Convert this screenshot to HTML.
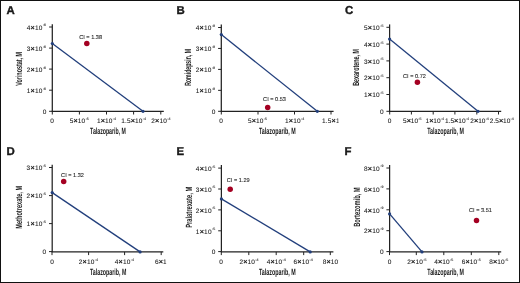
<!DOCTYPE html>
<html><head><meta charset="utf-8"><style>
html,body{margin:0;padding:0;background:#fff;}
svg{display:block;will-change:transform;}
text{font-family:"Liberation Sans",sans-serif;fill:#1a1a1a;text-rendering:geometricPrecision;}
.lab{font-weight:bold;}
.t{stroke:#1a1a1a;stroke-width:0.08px;}
.k{letter-spacing:0.3px;}
</style></head><body>
<svg width="520" height="283" viewBox="0 0 520 283">
<rect x="0" y="0" width="520" height="283" fill="#fff"/>
<text x="6.6" y="14.3" font-size="11.4" font-weight="bold" fill="#111" stroke="#111" stroke-width="0.35">A</text>
<path d="M52.3 24.3V111.3" fill="none" stroke="#222" stroke-width="1.25"/>
<path d="M51.699999999999996 111.3H163.8" fill="none" stroke="#222" stroke-width="1.3"/>
<path d="M49.099999999999994 111.3H52.3M49.099999999999994 90.2H52.3M49.099999999999994 69.1H52.3M49.099999999999994 48.1H52.3M49.099999999999994 27.0H52.3" stroke="#222" stroke-width="1"/>
<path d="M52.3 111.3V114.5M79.4 111.3V114.5M106.5 111.3V114.5M133.6 111.3V114.5M160.8 111.3V114.5" stroke="#222" stroke-width="1"/>
<text class="t" letter-spacing="0" x="46.30" y="113.50" text-anchor="end" font-size="6.5">0</text>
<text class="t" letter-spacing="0.22" x="46.10" y="92.90" text-anchor="end" font-size="6.5">1<tspan font-size="7.2" stroke-width="0.3">×</tspan>10<tspan font-size="3.6" dx="0.25" dy="-3.3" letter-spacing="0">-6</tspan></text>
<text class="t" letter-spacing="0.22" x="46.10" y="71.80" text-anchor="end" font-size="6.5">2<tspan font-size="7.2" stroke-width="0.3">×</tspan>10<tspan font-size="3.6" dx="0.25" dy="-3.3" letter-spacing="0">-6</tspan></text>
<text class="t" letter-spacing="0.22" x="46.10" y="50.80" text-anchor="end" font-size="6.5">3<tspan font-size="7.2" stroke-width="0.3">×</tspan>10<tspan font-size="3.6" dx="0.25" dy="-3.3" letter-spacing="0">-6</tspan></text>
<text class="t" letter-spacing="0.22" x="46.10" y="29.70" text-anchor="end" font-size="6.5">4<tspan font-size="7.2" stroke-width="0.3">×</tspan>10<tspan font-size="3.6" dx="0.25" dy="-3.3" letter-spacing="0">-6</tspan></text>
<text class="t" letter-spacing="0.15" x="52.10" y="122.80" text-anchor="middle" font-size="6.5">0</text>
<text class="t" letter-spacing="0.15" x="79.30" y="122.80" text-anchor="middle" font-size="6.5">5<tspan font-size="7.2" stroke-width="0.3">×</tspan>10<tspan font-size="3.6" dx="0.25" dy="-2.9" letter-spacing="0">-5</tspan></text>
<text class="t" letter-spacing="0.15" x="106.50" y="122.80" text-anchor="middle" font-size="6.5">1<tspan font-size="7.2" stroke-width="0.3">×</tspan>10<tspan font-size="3.6" dx="0.25" dy="-2.9" letter-spacing="0">-4</tspan></text>
<text class="t" letter-spacing="0.15" x="133.60" y="122.80" text-anchor="middle" font-size="6.5">1.5<tspan font-size="7.2" stroke-width="0.3">×</tspan>10<tspan font-size="3.6" dx="0.25" dy="-2.9" letter-spacing="0">-4</tspan></text>
<text class="t" letter-spacing="0.15" x="160.90" y="122.80" text-anchor="middle" font-size="6.5">2<tspan font-size="7.2" stroke-width="0.3">×</tspan>10<tspan font-size="3.6" dx="0.25" dy="-2.9" letter-spacing="0">-4</tspan></text>
<text transform="translate(21.6 85.8) rotate(-90)" x="0" y="0" font-size="9.0" textLength="33.90" lengthAdjust="spacingAndGlyphs" class="lab">Vorinostat, M</text>
<text x="90.10000000000001" y="134.3" font-size="9.0" textLength="35.80" lengthAdjust="spacingAndGlyphs" class="lab">Talazoparib, M</text>
<path d="M52.3 43.5L143.0 111.3" stroke="#223f7c" stroke-width="1.3"/>
<circle cx="52.3" cy="43.5" r="1.6" fill="#223f7c"/><circle cx="143.0" cy="111.3" r="1.6" fill="#223f7c"/>
<circle cx="86.8" cy="43.4" r="2.75" fill="#a40022"/>
<text class="t" x="79.2" y="39.4" font-size="5.6">CI = 1.38</text>
<text x="176.4" y="14.3" font-size="11.4" font-weight="bold" fill="#111" stroke="#111" stroke-width="0.35">B</text>
<path d="M221.3 24.4V111.3" fill="none" stroke="#222" stroke-width="1.25"/>
<path d="M220.70000000000002 111.3H333.6" fill="none" stroke="#222" stroke-width="1.3"/>
<path d="M218.10000000000002 111.3H221.3M218.10000000000002 90.35H221.3M218.10000000000002 69.4H221.3M218.10000000000002 48.45H221.3M218.10000000000002 27.5H221.3" stroke="#222" stroke-width="1"/>
<path d="M221.3 111.3V114.5M258.0 111.3V114.5M294.5 111.3V114.5M331.0 111.3V114.5" stroke="#222" stroke-width="1"/>
<text class="t" letter-spacing="0" x="215.30" y="113.50" text-anchor="end" font-size="6.5">0</text>
<text class="t" letter-spacing="0.22" x="215.10" y="93.05" text-anchor="end" font-size="6.5">1<tspan font-size="7.2" stroke-width="0.3">×</tspan>10<tspan font-size="3.6" dx="0.25" dy="-3.3" letter-spacing="0">-9</tspan></text>
<text class="t" letter-spacing="0.22" x="215.10" y="72.10" text-anchor="end" font-size="6.5">2<tspan font-size="7.2" stroke-width="0.3">×</tspan>10<tspan font-size="3.6" dx="0.25" dy="-3.3" letter-spacing="0">-9</tspan></text>
<text class="t" letter-spacing="0.22" x="215.10" y="51.15" text-anchor="end" font-size="6.5">3<tspan font-size="7.2" stroke-width="0.3">×</tspan>10<tspan font-size="3.6" dx="0.25" dy="-3.3" letter-spacing="0">-9</tspan></text>
<text class="t" letter-spacing="0.22" x="215.10" y="30.20" text-anchor="end" font-size="6.5">4<tspan font-size="7.2" stroke-width="0.3">×</tspan>10<tspan font-size="3.6" dx="0.25" dy="-3.3" letter-spacing="0">-9</tspan></text>
<clipPath id="c1"><rect x="0" y="0" width="338.6" height="283"/></clipPath>
<g clip-path="url(#c1)">
<text class="t" letter-spacing="0.15" x="221.25" y="122.80" text-anchor="middle" font-size="6.5">0</text>
<text class="t" letter-spacing="0.15" x="257.50" y="122.80" text-anchor="middle" font-size="6.5">5<tspan font-size="7.2" stroke-width="0.3">×</tspan>10<tspan font-size="3.6" dx="0.25" dy="-2.9" letter-spacing="0">-5</tspan></text>
<text class="t" letter-spacing="0.15" x="294.60" y="122.80" text-anchor="middle" font-size="6.5">1<tspan font-size="7.2" stroke-width="0.3">×</tspan>10<tspan font-size="3.6" dx="0.25" dy="-2.9" letter-spacing="0">-4</tspan></text>
<text class="t" letter-spacing="0.15" x="334.50" y="122.80" text-anchor="middle" font-size="6.5">1.5<tspan font-size="7.2" stroke-width="0.3">×</tspan>10<tspan font-size="3.6" dx="0.25" dy="-2.9" letter-spacing="0">-4</tspan></text>
</g>
<text transform="translate(191.3 85.8) rotate(-90)" x="0" y="0" font-size="9.0" textLength="36.80" lengthAdjust="spacingAndGlyphs" class="lab">Romidepsin, M</text>
<text x="259.0" y="134.3" font-size="9.0" textLength="36.80" lengthAdjust="spacingAndGlyphs" class="lab">Talazoparib, M</text>
<path d="M221.3 34.6L317.3 111.3" stroke="#223f7c" stroke-width="1.3"/>
<circle cx="221.3" cy="34.6" r="1.6" fill="#223f7c"/><circle cx="317.3" cy="111.3" r="1.6" fill="#223f7c"/>
<circle cx="267.7" cy="107.4" r="2.75" fill="#a40022"/>
<text class="t" x="263.1" y="101.1" font-size="5.6">CI = 0.53</text>
<text x="344.9" y="14.3" font-size="11.4" font-weight="bold" fill="#111" stroke="#111" stroke-width="0.35">C</text>
<path d="M389.6 24.4V111.3" fill="none" stroke="#222" stroke-width="1.25"/>
<path d="M389.0 111.3H501.2" fill="none" stroke="#222" stroke-width="1.3"/>
<path d="M386.40000000000003 111.3H389.6M386.40000000000003 94.5H389.6M386.40000000000003 77.7H389.6M386.40000000000003 60.9H389.6M386.40000000000003 44.1H389.6M386.40000000000003 27.3H389.6" stroke="#222" stroke-width="1"/>
<path d="M389.7 111.3V114.5M411.4 111.3V114.5M433.2 111.3V114.5M454.9 111.3V114.5M476.8 111.3V114.5M498.5 111.3V114.5" stroke="#222" stroke-width="1"/>
<text class="t" letter-spacing="0" x="383.60" y="113.50" text-anchor="end" font-size="6.5">0</text>
<text class="t" letter-spacing="0.22" x="383.40" y="97.20" text-anchor="end" font-size="6.5">1<tspan font-size="7.2" stroke-width="0.3">×</tspan>10<tspan font-size="3.6" dx="0.25" dy="-3.3" letter-spacing="0">-5</tspan></text>
<text class="t" letter-spacing="0.22" x="383.40" y="80.40" text-anchor="end" font-size="6.5">2<tspan font-size="7.2" stroke-width="0.3">×</tspan>10<tspan font-size="3.6" dx="0.25" dy="-3.3" letter-spacing="0">-5</tspan></text>
<text class="t" letter-spacing="0.22" x="383.40" y="63.60" text-anchor="end" font-size="6.5">3<tspan font-size="7.2" stroke-width="0.3">×</tspan>10<tspan font-size="3.6" dx="0.25" dy="-3.3" letter-spacing="0">-5</tspan></text>
<text class="t" letter-spacing="0.22" x="383.40" y="46.80" text-anchor="end" font-size="6.5">4<tspan font-size="7.2" stroke-width="0.3">×</tspan>10<tspan font-size="3.6" dx="0.25" dy="-3.3" letter-spacing="0">-5</tspan></text>
<text class="t" letter-spacing="0.22" x="383.40" y="30.00" text-anchor="end" font-size="6.5">5<tspan font-size="7.2" stroke-width="0.3">×</tspan>10<tspan font-size="3.6" dx="0.25" dy="-3.3" letter-spacing="0">-5</tspan></text>
<text class="t" letter-spacing="0.0" x="389.50" y="122.80" text-anchor="middle" font-size="6.5">0</text>
<text class="t" letter-spacing="0.0" x="412.30" y="122.80" text-anchor="middle" font-size="6.5">5<tspan font-size="7.2" stroke-width="0.3">×</tspan>10<tspan font-size="3.6" dx="0.25" dy="-2.9" letter-spacing="0">-5</tspan></text>
<text class="t" letter-spacing="0.0" x="434.80" y="122.80" text-anchor="middle" font-size="6.5">1<tspan font-size="7.2" stroke-width="0.3">×</tspan>10<tspan font-size="3.6" dx="0.25" dy="-2.9" letter-spacing="0">-4</tspan></text>
<text class="t" letter-spacing="0.0" x="457.00" y="122.80" text-anchor="middle" font-size="6.5">1.5<tspan font-size="7.2" stroke-width="0.3">×</tspan>10<tspan font-size="3.6" dx="0.25" dy="-2.9" letter-spacing="0">-4</tspan></text>
<text class="t" letter-spacing="0.0" x="479.60" y="122.80" text-anchor="middle" font-size="6.5">2<tspan font-size="7.2" stroke-width="0.3">×</tspan>10<tspan font-size="3.6" dx="0.25" dy="-2.9" letter-spacing="0">-4</tspan></text>
<text class="t" letter-spacing="0.0" x="501.80" y="122.80" text-anchor="middle" font-size="6.5">2.5<tspan font-size="7.2" stroke-width="0.3">×</tspan>10<tspan font-size="3.6" dx="0.25" dy="-2.9" letter-spacing="0">-4</tspan></text>
<text transform="translate(359.3 85.8) rotate(-90)" x="0" y="0" font-size="9.0" textLength="36.80" lengthAdjust="spacingAndGlyphs" class="lab">Bexarotene, M</text>
<text x="427.2" y="134.3" font-size="9.0" textLength="36.70" lengthAdjust="spacingAndGlyphs" class="lab">Talazoparib, M</text>
<path d="M389.6 39.1L478.0 111.3" stroke="#223f7c" stroke-width="1.3"/>
<circle cx="389.6" cy="39.1" r="1.6" fill="#223f7c"/><circle cx="478.0" cy="111.3" r="1.6" fill="#223f7c"/>
<circle cx="417.4" cy="82.3" r="2.75" fill="#a40022"/>
<text class="t" x="403.0" y="77.8" font-size="5.6">CI = 0.72</text>
<text x="6.4" y="155.2" font-size="11.4" font-weight="bold" fill="#111" stroke="#111" stroke-width="0.35">D</text>
<path d="M52.2 164.8V251.9" fill="none" stroke="#222" stroke-width="1.25"/>
<path d="M51.6 251.9H163.3" fill="none" stroke="#222" stroke-width="1.3"/>
<path d="M49.0 251.6H52.2M49.0 223.6H52.2M49.0 195.6H52.2M49.0 167.5H52.2" stroke="#222" stroke-width="1"/>
<path d="M52.0 251.9V255.1M88.6 251.9V255.1M124.6 251.9V255.1M161.2 251.9V255.1" stroke="#222" stroke-width="1"/>
<text class="t" letter-spacing="0" x="46.20" y="253.80" text-anchor="end" font-size="6.5">0</text>
<text class="t" letter-spacing="0.22" x="46.00" y="226.30" text-anchor="end" font-size="6.5">1<tspan font-size="7.2" stroke-width="0.3">×</tspan>10<tspan font-size="3.6" dx="0.25" dy="-3.3" letter-spacing="0">-5</tspan></text>
<text class="t" letter-spacing="0.22" x="46.00" y="198.30" text-anchor="end" font-size="6.5">2<tspan font-size="7.2" stroke-width="0.3">×</tspan>10<tspan font-size="3.6" dx="0.25" dy="-3.3" letter-spacing="0">-5</tspan></text>
<text class="t" letter-spacing="0.22" x="46.00" y="170.20" text-anchor="end" font-size="6.5">3<tspan font-size="7.2" stroke-width="0.3">×</tspan>10<tspan font-size="3.6" dx="0.25" dy="-3.3" letter-spacing="0">-5</tspan></text>
<clipPath id="c3"><rect x="0" y="0" width="166.4" height="283"/></clipPath>
<g clip-path="url(#c3)">
<text class="t" letter-spacing="0.15" x="52.10" y="263.75" text-anchor="middle" font-size="6.5">0</text>
<text class="t" letter-spacing="0.15" x="88.40" y="263.75" text-anchor="middle" font-size="6.5">2<tspan font-size="7.2" stroke-width="0.3">×</tspan>10<tspan font-size="3.6" dx="0.25" dy="-2.9" letter-spacing="0">-4</tspan></text>
<text class="t" letter-spacing="0.15" x="124.40" y="263.75" text-anchor="middle" font-size="6.5">4<tspan font-size="7.2" stroke-width="0.3">×</tspan>10<tspan font-size="3.6" dx="0.25" dy="-2.9" letter-spacing="0">-4</tspan></text>
<text class="t" letter-spacing="0.15" x="164.50" y="263.75" text-anchor="middle" font-size="6.5">6<tspan font-size="7.2" stroke-width="0.3">×</tspan>10<tspan font-size="3.6" dx="0.25" dy="-2.9" letter-spacing="0">-4</tspan></text>
</g>
<text transform="translate(21.5 228.8) rotate(-90)" x="0" y="0" font-size="9.0" textLength="43.00" lengthAdjust="spacingAndGlyphs" class="lab">Methotrexate, M</text>
<text x="90.0" y="275.1" font-size="9.0" textLength="36.30" lengthAdjust="spacingAndGlyphs" class="lab">Talazoparib, M</text>
<path d="M52.2 192.6L140.1 251.9" stroke="#223f7c" stroke-width="1.3"/>
<circle cx="52.2" cy="192.6" r="1.6" fill="#223f7c"/><circle cx="140.1" cy="251.9" r="1.6" fill="#223f7c"/>
<circle cx="63.7" cy="181.6" r="2.75" fill="#a40022"/>
<text class="t" x="61.1" y="176.6" font-size="5.6">CI = 1.32</text>
<text x="176.4" y="155.2" font-size="11.4" font-weight="bold" fill="#111" stroke="#111" stroke-width="0.35">E</text>
<path d="M221.4 165.0V251.9" fill="none" stroke="#222" stroke-width="1.25"/>
<path d="M220.8 251.9H333.4" fill="none" stroke="#222" stroke-width="1.3"/>
<path d="M218.20000000000002 251.6H221.4M218.20000000000002 230.8H221.4M218.20000000000002 209.9H221.4M218.20000000000002 189.0H221.4M218.20000000000002 168.1H221.4" stroke="#222" stroke-width="1"/>
<path d="M221.3 251.9V255.1M248.8 251.9V255.1M276.2 251.9V255.1M303.7 251.9V255.1M330.3 251.9V255.1" stroke="#222" stroke-width="1"/>
<text class="t" letter-spacing="0" x="215.40" y="253.80" text-anchor="end" font-size="6.5">0</text>
<text class="t" letter-spacing="0.22" x="215.20" y="233.50" text-anchor="end" font-size="6.5">1<tspan font-size="7.2" stroke-width="0.3">×</tspan>10<tspan font-size="3.6" dx="0.25" dy="-3.3" letter-spacing="0">-5</tspan></text>
<text class="t" letter-spacing="0.22" x="215.20" y="212.60" text-anchor="end" font-size="6.5">2<tspan font-size="7.2" stroke-width="0.3">×</tspan>10<tspan font-size="3.6" dx="0.25" dy="-3.3" letter-spacing="0">-5</tspan></text>
<text class="t" letter-spacing="0.22" x="215.20" y="191.70" text-anchor="end" font-size="6.5">3<tspan font-size="7.2" stroke-width="0.3">×</tspan>10<tspan font-size="3.6" dx="0.25" dy="-3.3" letter-spacing="0">-5</tspan></text>
<text class="t" letter-spacing="0.22" x="215.20" y="170.80" text-anchor="end" font-size="6.5">4<tspan font-size="7.2" stroke-width="0.3">×</tspan>10<tspan font-size="3.6" dx="0.25" dy="-3.3" letter-spacing="0">-5</tspan></text>
<clipPath id="c4"><rect x="0" y="0" width="338.6" height="283"/></clipPath>
<g clip-path="url(#c4)">
<text class="t" letter-spacing="0.15" x="221.25" y="263.75" text-anchor="middle" font-size="6.5">0</text>
<text class="t" letter-spacing="0.15" x="249.00" y="263.75" text-anchor="middle" font-size="6.5">2<tspan font-size="7.2" stroke-width="0.3">×</tspan>10<tspan font-size="3.6" dx="0.25" dy="-2.9" letter-spacing="0">-4</tspan></text>
<text class="t" letter-spacing="0.15" x="276.25" y="263.75" text-anchor="middle" font-size="6.5">4<tspan font-size="7.2" stroke-width="0.3">×</tspan>10<tspan font-size="3.6" dx="0.25" dy="-2.9" letter-spacing="0">-4</tspan></text>
<text class="t" letter-spacing="0.15" x="303.10" y="263.75" text-anchor="middle" font-size="6.5">6<tspan font-size="7.2" stroke-width="0.3">×</tspan>10<tspan font-size="3.6" dx="0.25" dy="-2.9" letter-spacing="0">-4</tspan></text>
<text class="t" letter-spacing="0.15" x="332.30" y="263.75" text-anchor="middle" font-size="6.5">8<tspan font-size="7.2" stroke-width="0.3">×</tspan>10<tspan font-size="3.6" dx="0.25" dy="-2.9" letter-spacing="0">-4</tspan></text>
</g>
<text transform="translate(191.5 227.8) rotate(-90)" x="0" y="0" font-size="9.0" textLength="41.00" lengthAdjust="spacingAndGlyphs" class="lab">Pralatrexate, M</text>
<text x="259.0" y="275.1" font-size="9.0" textLength="36.80" lengthAdjust="spacingAndGlyphs" class="lab">Talazoparib, M</text>
<path d="M221.4 198.9L310.2 251.9" stroke="#223f7c" stroke-width="1.3"/>
<circle cx="221.4" cy="198.9" r="1.6" fill="#223f7c"/><circle cx="310.2" cy="251.9" r="1.6" fill="#223f7c"/>
<circle cx="230.2" cy="189.2" r="2.75" fill="#a40022"/>
<text class="t" x="226.8" y="182.1" font-size="5.6">CI = 1.29</text>
<text x="344.6" y="155.0" font-size="11.4" font-weight="bold" fill="#111" stroke="#111" stroke-width="0.35">F</text>
<path d="M389.6 165.0V251.9" fill="none" stroke="#222" stroke-width="1.25"/>
<path d="M389.0 251.9H501.2" fill="none" stroke="#222" stroke-width="1.3"/>
<path d="M386.40000000000003 251.6H389.6M386.40000000000003 230.7H389.6M386.40000000000003 209.8H389.6M386.40000000000003 188.9H389.6M386.40000000000003 168.0H389.6" stroke="#222" stroke-width="1"/>
<path d="M389.5 251.9V255.1M416.3 251.9V255.1M443.8 251.9V255.1M471.3 251.9V255.1M498.8 251.9V255.1" stroke="#222" stroke-width="1"/>
<text class="t" letter-spacing="0" x="383.60" y="253.80" text-anchor="end" font-size="6.5">0</text>
<text class="t" letter-spacing="0.22" x="383.40" y="233.40" text-anchor="end" font-size="6.5">2<tspan font-size="7.2" stroke-width="0.3">×</tspan>10<tspan font-size="3.6" dx="0.25" dy="-3.3" letter-spacing="0">-9</tspan></text>
<text class="t" letter-spacing="0.22" x="383.40" y="212.50" text-anchor="end" font-size="6.5">4<tspan font-size="7.2" stroke-width="0.3">×</tspan>10<tspan font-size="3.6" dx="0.25" dy="-3.3" letter-spacing="0">-9</tspan></text>
<text class="t" letter-spacing="0.22" x="383.40" y="191.60" text-anchor="end" font-size="6.5">6<tspan font-size="7.2" stroke-width="0.3">×</tspan>10<tspan font-size="3.6" dx="0.25" dy="-3.3" letter-spacing="0">-9</tspan></text>
<text class="t" letter-spacing="0.22" x="383.40" y="170.70" text-anchor="end" font-size="6.5">8<tspan font-size="7.2" stroke-width="0.3">×</tspan>10<tspan font-size="3.6" dx="0.25" dy="-3.3" letter-spacing="0">-9</tspan></text>
<text class="t" letter-spacing="0.15" x="389.60" y="263.75" text-anchor="middle" font-size="6.5">0</text>
<text class="t" letter-spacing="0.15" x="416.90" y="263.75" text-anchor="middle" font-size="6.5">2<tspan font-size="7.2" stroke-width="0.3">×</tspan>10<tspan font-size="3.6" dx="0.25" dy="-2.9" letter-spacing="0">-5</tspan></text>
<text class="t" letter-spacing="0.15" x="443.75" y="263.75" text-anchor="middle" font-size="6.5">4<tspan font-size="7.2" stroke-width="0.3">×</tspan>10<tspan font-size="3.6" dx="0.25" dy="-2.9" letter-spacing="0">-5</tspan></text>
<text class="t" letter-spacing="0.15" x="471.25" y="263.75" text-anchor="middle" font-size="6.5">6<tspan font-size="7.2" stroke-width="0.3">×</tspan>10<tspan font-size="3.6" dx="0.25" dy="-2.9" letter-spacing="0">-5</tspan></text>
<text class="t" letter-spacing="0.15" x="498.75" y="263.75" text-anchor="middle" font-size="6.5">8<tspan font-size="7.2" stroke-width="0.3">×</tspan>10<tspan font-size="3.6" dx="0.25" dy="-2.9" letter-spacing="0">-5</tspan></text>
<text transform="translate(359.5 226.8) rotate(-90)" x="0" y="0" font-size="9.0" textLength="39.40" lengthAdjust="spacingAndGlyphs" class="lab">Bortezomib, M</text>
<text x="427.3" y="275.1" font-size="9.0" textLength="36.60" lengthAdjust="spacingAndGlyphs" class="lab">Talazoparib, M</text>
<path d="M389.6 213.9L422.0 251.9" stroke="#223f7c" stroke-width="1.3"/>
<circle cx="389.6" cy="213.9" r="1.6" fill="#223f7c"/><circle cx="422.0" cy="251.9" r="1.6" fill="#223f7c"/>
<circle cx="476.5" cy="220.4" r="2.75" fill="#a40022"/>
<text class="t" x="469.0" y="212.0" font-size="5.6">CI = 3.51</text>
<rect x="0.5" y="0.5" width="519" height="282" fill="none" stroke="#111" stroke-width="1"/>
</svg>
</body></html>
